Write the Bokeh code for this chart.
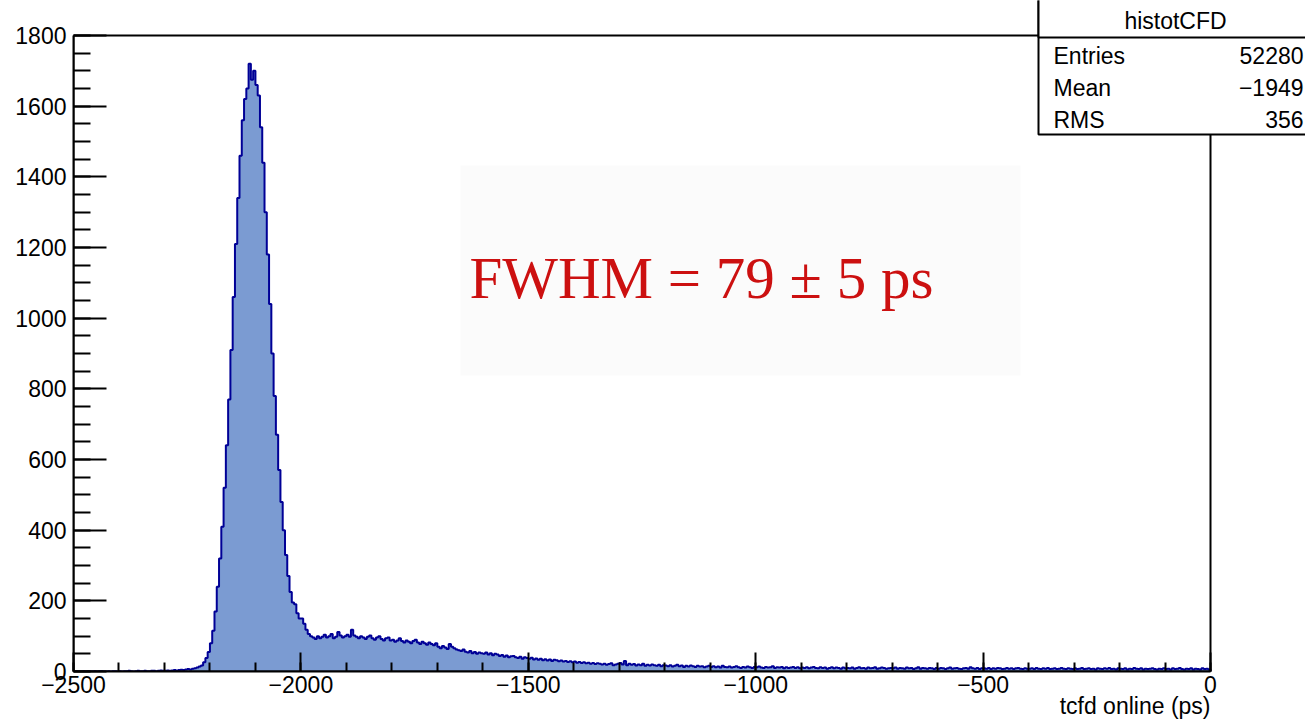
import numpy as np
from bokeh.plotting import figure
from bokeh.models import Range1d, SingleIntervalTicker, Label, BoxAnnotation, Title
from bokeh.embed import file_html
from bokeh.resources import INLINE

# ---------------- data ----------------
x_start, x_stop, bin_width = -2500, 0, 5
y_start, y_stop = 0, 1800

counts_left = [0, 1, 0, 0, 1, 0, 1, 0, 0, 1, 0, 1, 1, 0, 0, 1, 0, 1, 1, 0,
               1, 0, 1, 1, 2, 1, 0, 1, 2, 1, 1, 2, 1, 1, 2, 2, 1, 2, 3, 2,
               2, 3, 2, 3, 4, 3, 4, 5, 4, 6, 7, 6, 8, 9, 11, 14]
counts_peak = [17, 26, 38, 55,
               80, 115, 170, 240, 320, 410, 520, 640, 770, 910, 1060, 1210, 1340, 1460, 1560, 1620,
               1650, 1720, 1675, 1700, 1660, 1630, 1540, 1440, 1300, 1180, 1040, 900, 780, 670,
               570, 480, 400, 330, 270, 225, 195, 190, 165, 150]
counts_shoulder = [150, 135, 118, 106, 100, 96, 92, 100, 94, 98, 104, 96, 100, 106, 94, 98, 112, 102, 96, 100,
                   104, 98, 118, 102, 98, 94, 100, 96, 92, 98, 102, 94, 90, 96, 100, 92, 88, 94, 96, 88,
                   90, 84, 88, 94, 86, 82, 88, 84, 80, 86, 90, 82, 78, 84, 80, 76, 82, 78, 74, 80,
                   70, 66, 72, 68, 64, 78, 70, 66, 62, 60, 58, 62, 56, 54, 58, 52, 55, 50, 54, 52,
                   50, 54, 48, 52, 46, 50, 48, 44, 47, 42, 45, 40, 43, 44, 40, 38, 42, 36, 40, 38,
                   36, 39, 34, 37, 33, 36, 32, 35, 31, 34, 30, 33, 32, 29, 31, 28, 30, 27, 29, 26,
                   28, 25, 27, 24, 26, 23, 25, 22, 24, 21, 23, 22, 20, 22, 19, 21, 23, 18, 20, 22]
counts_tail = [24, 20, 30, 18, 22, 19, 21, 17, 20, 18, 22, 16, 19, 17, 20, 18, 16, 19, 15, 18,
               17, 15, 18, 14, 16, 19, 15, 17, 13, 16, 14, 17, 15, 13, 16, 14, 15, 12, 14, 16,
               13, 15, 12, 14, 11, 16, 13, 12, 14, 11, 13, 15, 12, 10, 13, 11, 14, 12, 10, 13,
               12, 14, 11, 10, 13, 11, 12, 15, 10, 12, 11, 13, 9, 12, 10, 11, 13, 10, 12, 9,
               11, 10, 12, 9, 11, 13, 10, 9, 12, 10, 11, 8, 10, 12, 9, 11, 10, 8, 11, 9,
               10, 9, 11, 8, 10, 12, 9, 10, 8, 11, 9, 10, 12, 8, 9, 11, 10, 8, 9, 10,
               9, 11, 8, 10, 9, 8, 11, 9, 10, 7, 9, 12, 8, 10, 9, 8, 10, 9, 7, 10,
               8, 10, 9, 7, 9, 11, 8, 9, 10, 8, 7, 9, 10, 8, 12, 9, 8, 10, 7, 9,
               9, 8, 10, 7, 9, 8, 10, 9, 7, 8, 10, 8, 9, 7, 9, 10, 8, 7, 9, 8,
               8, 9, 7, 10, 8, 7, 9, 8, 10, 7, 8, 9, 7, 8, 10, 8, 7, 9, 8, 7,
               9, 7, 8, 10, 7, 8, 9, 7, 8, 6, 9, 8, 7, 9, 8, 10, 7, 8, 6, 9,
               8, 7, 9, 6, 8, 7, 10, 8, 7, 9, 6, 8, 7, 8, 9, 7, 6, 8, 7, 9,
               7, 8, 6, 9, 7, 8, 10, 7, 6, 8, 7, 9, 6, 8, 7, 6, 9, 7, 8, 6]

x_tick_values = [-2500, -2000, -1500, -1000, -500, 0]
x_tick_labels = ["\u22122500", "\u22122000", "\u22121500", "\u22121000", "\u2212500", "0"]

x_axis_title = "tcfd online (ps)"
stats_title = "histotCFD"
stats_names = ["Entries", "Mean", "RMS"]
stats_values = ["52280", "\u22121949", "356"]
fwhm_text = "FWHM = 79 \u00b1 5 ps"

counts = np.array(counts_left + counts_peak + counts_shoulder + counts_tail, dtype=float)
edges = np.arange(x_start, x_stop + bin_width, bin_width, dtype=float)
assert len(counts) == len(edges) - 1

# ---------------- layout (canvas px) ----------------
W, H = 1305, 719
F_LEFT, F_RIGHT, F_TOP, F_BOTTOM = 73, 1210, 35, 671   # where the ROOT frame sits

def dx(px):
    return x_start + (px - F_LEFT) * (x_stop - x_start) / (F_RIGHT - F_LEFT)

def dy(py):
    return y_start + (F_BOTTOM - py) * (y_stop - y_start) / (F_BOTTOM - F_TOP)

# the Bokeh frame spans up to the canvas top and right edge, so the stats box fits in it
p = figure(width=W, height=H, output_backend="svg", toolbar_location=None,
           x_range=Range1d(x_start, dx(W)), y_range=Range1d(y_start, dy(0)),
           min_border_left=F_LEFT, min_border_right=0, min_border_top=0,
           min_border_bottom=H - F_BOTTOM)
p.background_fill_color = "white"
p.border_fill_color = "white"
p.grid.visible = False
p.outline_line_color = None

# histogram
step_x = np.repeat(edges, 2)
step_y = np.concatenate([[0.0], np.repeat(counts, 2), [0.0]])
p.varea(x=step_x, y1=np.zeros_like(step_y), y2=step_y, fill_color="#7b9bd2")
p.line(x=step_x, y=step_y, line_color="#000096", line_width=2)

# axes
font = "Liberation Sans"
p.xaxis.ticker = SingleIntervalTicker(interval=500, num_minor_ticks=5)
p.yaxis.ticker = SingleIntervalTicker(interval=200, num_minor_ticks=4)
p.xaxis.bounds = (x_start, x_stop)
p.yaxis.bounds = (y_start, y_stop)
p.xaxis.major_label_overrides = dict(zip(x_tick_values, x_tick_labels))
for ax in (p.xaxis, p.yaxis):
    ax.axis_line_color = "black"
    ax.axis_line_width = 2
    ax.major_tick_line_color = "black"
    ax.major_tick_line_width = 2
    ax.minor_tick_line_color = "black"
    ax.minor_tick_line_width = 2
    ax.major_tick_out = 0
    ax.minor_tick_out = 0
    ax.major_label_text_font = font
    ax.major_label_text_font_size = "23px"
    ax.major_label_text_color = "black"
p.xaxis.major_tick_in = 19
p.xaxis.minor_tick_in = 9
p.yaxis.major_tick_in = 33
p.yaxis.minor_tick_in = 17
p.xaxis.major_label_standoff = 4
p.yaxis.major_label_standoff = 7

# x-axis title, right-aligned under the frame
p.add_layout(Title(text=x_axis_title, align="right", offset=(W - F_RIGHT), standoff=-10,
                   text_font=font, text_font_size="23px", text_font_style="normal",
                   text_color="black"), "below")

# ROOT frame
p.add_layout(BoxAnnotation(left=x_start, right=x_stop, bottom=y_start, top=y_stop,
                           fill_alpha=0.0, line_color="black", line_alpha=1.0, line_width=2))

# faint pasted box behind the annotation
p.add_layout(BoxAnnotation(left=dx(460), right=dx(1020), bottom=dy(375), top=dy(165),
                           fill_color="#fbfbfb", fill_alpha=1.0, line_color=None))
p.add_layout(Label(x=dx(469), y=dy(277), text=fwhm_text, text_align="left",
                   text_baseline="alphabetic", text_font="Liberation Serif",
                   text_font_size="59px", text_color="#cc1010"))

# stats box
p.add_layout(BoxAnnotation(left=dx(1038), right=dx(1330), bottom=dy(134), top=dy(-10),
                           fill_color="white", fill_alpha=1.0, line_color="black",
                           line_alpha=1.0, line_width=2))
p.add_layout(BoxAnnotation(left=dx(1038), right=dx(1330), bottom=dy(37), top=dy(-10),
                           fill_color="white", fill_alpha=1.0, line_color="black",
                           line_alpha=1.0, line_width=2))
p.add_layout(Label(x=dx(1175), y=dy(20), text=stats_title, text_align="center",
                   text_baseline="middle", text_font=font, text_font_size="23px",
                   text_color="black"))
row_y = [55, 87, 119]
for name, val, ry in zip(stats_names, stats_values, row_y):
    p.add_layout(Label(x=dx(1053), y=dy(ry), text=name, text_align="left",
                       text_baseline="middle", text_font=font, text_font_size="23px",
                       text_color="black"))
    p.add_layout(Label(x=dx(1303), y=dy(ry), text=val, text_align="right",
                       text_baseline="middle", text_font=font, text_font_size="23px",
                       text_color="black"))

open("out.html", "w").write(file_html(p, INLINE))
